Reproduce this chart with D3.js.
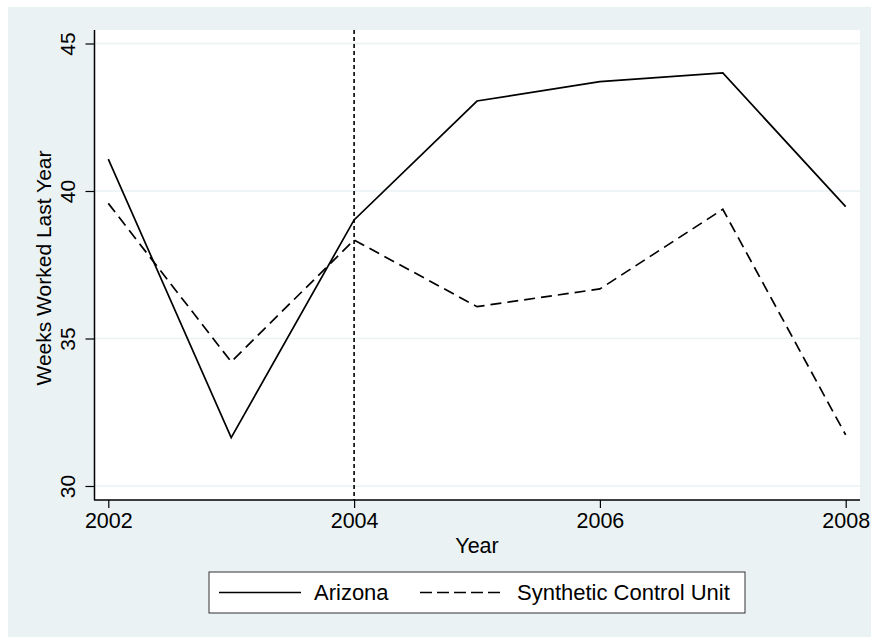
<!DOCTYPE html>
<html>
<head>
<meta charset="utf-8">
<script src="https://cdn.jsdelivr.net/npm/d3@7"></script>
<style>
  body { margin: 0; background: #fff; }
  text { font-family: "Liberation Sans", Arial, Helvetica, sans-serif; fill: #000; }
</style>
</head>
<body>
<svg id="chart" width="871" height="637"></svg>
<script>
// data
var years = [2002, 2003, 2004, 2005, 2006, 2007, 2008];
var arizona = [41.08, 31.64, 39.02, 43.05, 43.71, 44.0, 39.47];
var synthetic = [39.58, 34.21, 38.34, 36.08, 36.68, 39.38, 31.73];
var xTicks = [2002, 2004, 2006, 2008];
var yTicks = [30, 35, 40, 45];
var treatYear = 2004;
var seriesNames = ["Arizona", "Synthetic Control Unit"];

var svg = d3.select("#chart");
var bg = "#eaf2f3";

// plot region box
var plot = {left: 94, right: 860, top: 30, bottom: 500};

// outer background
svg.append("rect")
  .attr("x", 8).attr("y", 7)
  .attr("width", 871 - 8).attr("height", 637 - 7)
  .attr("fill", bg);

svg.append("rect")
  .attr("x", plot.left).attr("y", plot.top)
  .attr("width", plot.right - plot.left)
  .attr("height", plot.bottom - plot.top)
  .attr("fill", "#fff");

// scales
var x = d3.scaleLinear().domain([2002, 2008]).range([108.3, 845.7]);
var y = d3.scaleLinear().domain([30, 45]).range([486, 43.5]);

// gridlines
svg.append("g")
  .selectAll("line")
  .data(yTicks)
  .enter().append("line")
  .attr("x1", plot.left).attr("x2", plot.right)
  .attr("y1", function(d) { return y(d); })
  .attr("y2", function(d) { return y(d); })
  .attr("stroke", bg)
  .attr("stroke-width", 1.5);

// x axis
var xAxis = svg.append("g")
  .attr("transform", "translate(0," + plot.bottom + ")")
  .call(d3.axisBottom(x).tickValues(xTicks).tickFormat(d3.format("d")).tickSize(8));
xAxis.select(".domain").remove();
xAxis.selectAll("line").attr("stroke", "#000").attr("stroke-width", 1.2);
xAxis.selectAll("text")
  .attr("y", 28).attr("dy", null)
  .style("font-size", "21.5px")
  .attr("fill", "#000");

// y axis
var yAxis = svg.append("g")
  .attr("transform", "translate(" + (plot.left + 0.5) + ",0)")
  .call(d3.axisLeft(y).tickValues(yTicks).tickSize(9));
yAxis.select(".domain").remove();
yAxis.selectAll("line").attr("stroke", "#000").attr("stroke-width", 1.2);
yAxis.selectAll("text")
  .attr("x", null).attr("dy", null)
  .attr("text-anchor", "middle")
  .attr("transform", "translate(-20,0) rotate(-90)")
  .style("font-size", "21px")
  .attr("fill", "#000");

// axis lines
svg.append("line")
  .attr("x1", plot.left + 0.5).attr("x2", plot.left + 0.5)
  .attr("y1", plot.top).attr("y2", plot.bottom)
  .attr("stroke", "#000").attr("stroke-width", 1.5);
svg.append("line")
  .attr("x1", plot.left).attr("x2", plot.right)
  .attr("y1", plot.bottom).attr("y2", plot.bottom)
  .attr("stroke", "#000").attr("stroke-width", 1.5);

// treatment year marker
svg.append("line")
  .attr("x1", x(treatYear)).attr("x2", x(treatYear))
  .attr("y1", plot.top).attr("y2", plot.bottom)
  .attr("stroke", "#000").attr("stroke-width", 1.6)
  .attr("stroke-dasharray", "4,3");

// lines
var line = d3.line()
  .x(function(d, i) { return x(years[i]); })
  .y(function(d) { return y(d); });

svg.append("path")
  .datum(arizona)
  .attr("fill", "none")
  .attr("stroke", "#000")
  .attr("stroke-width", 1.7)
  .attr("d", line);

svg.append("path")
  .datum(synthetic)
  .attr("fill", "none")
  .attr("stroke", "#000")
  .attr("stroke-width", 1.7)
  .attr("stroke-dasharray", "11,6")
  .attr("d", line);

// axis titles
svg.append("text")
  .attr("x", (plot.left + plot.right) / 2).attr("y", 553)
  .attr("text-anchor", "middle")
  .style("font-size", "21.5px")
  .text("Year");

svg.append("text")
  .attr("transform", "translate(51,268) rotate(-90)")
  .attr("text-anchor", "middle")
  .style("font-size", "21px")
  .text("Weeks Worked Last Year");

// legend
var legend = svg.append("g");
legend.append("rect")
  .attr("x", 209).attr("y", 572)
  .attr("width", 536).attr("height", 41)
  .attr("fill", "#fff")
  .attr("stroke", "#333")
  .attr("stroke-width", 1);

var legendItems = [
  {name: seriesNames[0], x0: 219, x1: 301, tx: 314, dash: null},
  {name: seriesNames[1], x0: 420, x1: 503, tx: 517, dash: "12,5"}
];
legendItems.forEach(function(d) {
  legend.append("line")
    .attr("x1", d.x0).attr("x2", d.x1)
    .attr("y1", 592.5).attr("y2", 592.5)
    .attr("stroke", "#000").attr("stroke-width", 1.7)
    .attr("stroke-dasharray", d.dash);
  legend.append("text")
    .attr("x", d.tx).attr("y", 600)
    .style("font-size", "22px")
    .text(d.name);
});
</script>
</body>
</html>
